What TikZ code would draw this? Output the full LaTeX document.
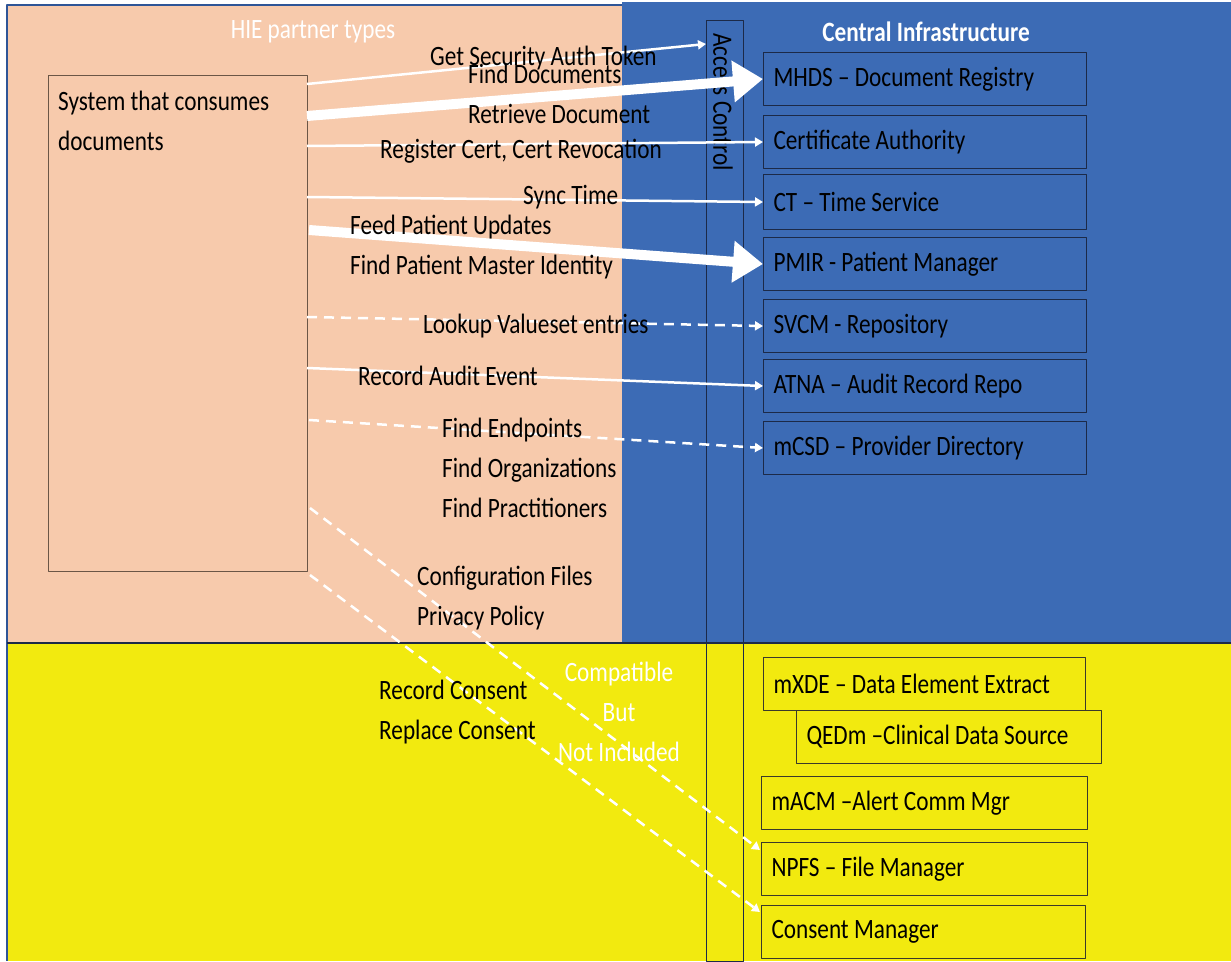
\documentclass[tikz,border=0pt]{standalone}
\usepackage{fontspec}
\setmainfont{Carlito}[FakeStretch=0.83]
\usetikzlibrary{arrows.meta}
\definecolor{peach}{HTML}{F7CAAC}
\definecolor{infblue}{HTML}{3C6BB5}
\definecolor{compyellow}{HTML}{F2EA0F}
\definecolor{frameblue}{HTML}{2E5597}
\definecolor{navyline}{HTML}{1C2A48}
\definecolor{darkline}{HTML}{3A3A2A}
\definecolor{sysline}{HTML}{6B5646}
\tikzset{
	svcbox/.style={draw=navyline, line width=1pt, anchor=north west, minimum width=323pt, minimum height=53pt, text width=303pt, inner xsep=10pt, align=flush left},
	cmpbox/.style={svcbox, draw=darkline},
	flowlbl/.style={anchor=west, inner sep=0pt, align=left},
	headlbl/.style={white, inner sep=0pt},
	thinflow/.style={white, line width=2.5pt, -{Triangle[length=8pt,width=9pt]}},
	thickflow/.style={white, line width=10pt, -{Triangle[length=30pt,width=40pt]}},
	dashflow/.style={white, line width=2.5pt, dash pattern=on 10pt off 7pt, -{Triangle[length=8pt,width=9pt]}}
}

\begin{document}
\begin{tikzpicture}[line join=round,x=1pt,y=-1pt,font=\fontsize{28}{40}\selectfont]
			\useasboundingbox (0,0) rectangle (1231,961);
			\fill [peach] (7,5) rectangle (622,643);
			\fill [infblue] (622,2) rectangle (1231,643);
			\fill [compyellow] (7,643) rectangle (1231,961);
			\draw [frameblue, line width=1.5pt] (7,961) -- (7,5) -- (622,5);
			\draw [navyline, line width=2pt] (7,643) -- (1231,643);
			\node [headlbl] (hie) at (313,32) {HIE partner types};
			\node [headlbl, font=\fontsize{28}{40}\selectfont\bfseries] (central) at (926,32) {Central Infrastructure};
			\node [draw=navyline, line width=1pt, minimum width=37pt, minimum height=941pt, inner sep=0pt] (ac) at (724.5,490.5) {};
			\node [rotate=-90, anchor=west, inner sep=0pt] (actxt) at (723,33) {Access Control};
			\node [draw=sysline, line width=1pt, anchor=north west, minimum width=259pt, minimum height=496pt] (sys) at (48,75) {};
			\node [anchor=north west, align=left, inner sep=0pt] (systxt) at (58,91) {System that consumes\\documents};
			\node [svcbox] (mhds) at (763,52) {MHDS -- Document Registry};
			\node [svcbox] (ca) at (763,115) {Certificate Authority};
			\node [svcbox, minimum height=55pt] (ct) at (763,174) {CT -- Time Service};
			\node [svcbox] (pmir) at (763,237) {PMIR - Patient Manager};
			\node [svcbox] (svcm) at (763,299) {SVCM - Repository};
			\node [svcbox] (atna) at (763,359) {ATNA -- Audit Record Repo};
			\node [svcbox] (mcsd) at (763,421) {mCSD -- Provider Directory};
			\node [cmpbox, minimum width=322pt, text width=302pt] (mxde) at (763,657) {mXDE -- Data Element Extract};
			\node [cmpbox, minimum width=305pt, text width=285pt] (qedm) at (796,710) {QEDm --Clinical Data Source};
			\node [cmpbox, minimum width=326pt, text width=306pt] (macm) at (761,776) {mACM --Alert Comm Mgr};
			\node [cmpbox, minimum width=326pt, text width=306pt] (npfs) at (761,842) {NPFS -- File Manager};
			\node [cmpbox, minimum width=324pt, text width=304pt] (consent) at (761,905) {Consent Manager};
			\coordinate (s1) at (307,84);
			\coordinate (s2) at (307,116);
			\coordinate (s3) at (307,146);
			\coordinate (s4) at (307,197);
			\coordinate (s5) at (309,230);
			\coordinate (s6) at (307,317);
			\coordinate (s7) at (307,368);
			\coordinate (s8) at (309,420);
			\coordinate (s9) at (310,508);
			\coordinate (s10) at (310,575);
			\coordinate (tok) at (706,44);
			\coordinate (npfsin) at (760,850);
			\coordinate (consentin) at (760,912);
			\draw [thinflow] (s1) -- (tok);
			\draw [thickflow] (s2) -- (mhds.west);
			\draw [thinflow] (s3) -- (ca.west);
			\draw [thinflow] (s4) -- (ct.west);
			\draw [thickflow] (s5) -- (pmir.west);
			\draw [dashflow] (s6) -- (svcm.west);
			\draw [thinflow] (s7) -- (atna.west);
			\draw [dashflow] (s8) -- (mcsd.west);
			\draw [dashflow] (s9) -- (npfsin);
			\draw [dashflow] (s10) -- (consentin);
			\node [flowlbl] (tokl) at (430,58) {Get Security Auth Token};
			\node [flowlbl] (docl) at (468,94) {Find Documents\\Retrieve Document};
			\node [flowlbl] (certl) at (380,151) {Register Cert, Cert Revocation};
			\node [flowlbl] (timel) at (523,197) {Sync Time};
			\node [flowlbl] (patl) at (350,247) {Feed Patient Updates\\Find Patient Master Identity};
			\node [flowlbl] (vsl) at (423,326) {Lookup Valueset entries};
			\node [flowlbl] (auditl) at (358,376) {Record Audit Event};
			\node [flowlbl] (dirl) at (442,468) {Find Endpoints\\Find Organizations\\Find Practitioners};
			\node [flowlbl] (filel) at (417,598) {Configuration Files\\Privacy Policy};
			\node [flowlbl] (consl) at (379,712) {Record Consent\\Replace Consent};
			\node [headlbl, align=center] (compl) at (619,712) {Compatible\\But\\Not Included};
		\end{tikzpicture}
\end{document}
